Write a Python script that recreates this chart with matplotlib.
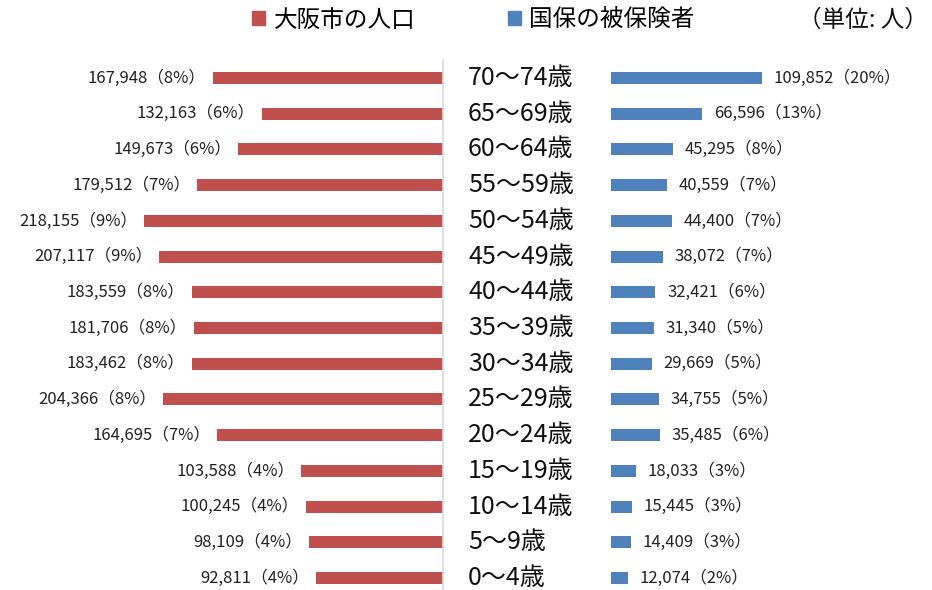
import matplotlib.pyplot as plt
import matplotlib.transforms as mtransforms
from matplotlib.patches import Patch

plt.rcParams['font.family'] = ['Noto Sans CJK JP', 'DejaVu Sans']

# Age groups, top to bottom as in the reference
ages = ['70～74歳', '65～69歳', '60～64歳', '55～59歳', '50～54歳',
        '45～49歳', '40～44歳', '35～39歳', '30～34歳', '25～29歳',
        '20～24歳', '15～19歳', '10～14歳', '5～9歳', '0～4歳']

# Osaka city population and share
city_pop = [167948, 132163, 149673, 179512, 218155, 207117, 183559, 181706,
            183462, 204366, 164695, 103588, 100245, 98109, 92811]
city_pct = [8, 6, 6, 7, 9, 9, 8, 8, 8, 8, 7, 4, 4, 4, 4]

# National health insurance insured and share
nhi_pop = [109852, 66596, 45295, 40559, 44400, 38072, 32421, 31340,
           29669, 34755, 35485, 18033, 15445, 14409, 12074]
nhi_pct = [20, 13, 8, 7, 7, 7, 6, 5, 5, 5, 6, 3, 3, 3, 2]

legend_labels = ['大阪市の人口', '国保の被保険者']
unit_label = '（単位: 人）'

red = '#C0504D'
blue = '#4F81BD'

W, H = 932, 590
fig = plt.figure(figsize=(W / 100, H / 100), dpi=100)

top = 60 / H
ax_l = fig.add_axes([0, 0, 443 / W, 1 - top])
ax_r = fig.add_axes([611 / W, 0, 1 - 611 / W, 1 - top])

n = len(ages)
ypos = list(range(n - 1, -1, -1))  # first item at top
bar_h = 0.336

ax_l.barh(ypos, city_pop, height=bar_h, color=red)
ax_r.barh(ypos, nhi_pop, height=bar_h, color=blue)

ax_l.set_xlim(323400, 0)
ax_r.set_xlim(0, 234300)
for ax in (ax_l, ax_r):
    ax.set_ylim(-0.336, 14.504)
    ax.set_xticks([])
    ax.set_yticks([])
    for s in ax.spines.values():
        s.set_visible(False)
ax_l.spines['right'].set_visible(True)
ax_l.spines['right'].set_color('#D9D9D9')
ax_l.spines['right'].set_linewidth(1.2)

# value labels
for y, v, p in zip(ypos, city_pop, city_pct):
    ax_l.annotate(f'{v:,}（{p}%）', (v, y), xytext=(-5, 0),
                  textcoords='offset points', ha='right', va='center',
                  fontsize=12, color='#222222')
for y, v, p in zip(ypos, nhi_pop, nhi_pct):
    ax_r.annotate(f'{v:,}（{p}%）', (v, y), xytext=(8.5, 0),
                  textcoords='offset points', ha='left', va='center',
                  fontsize=12, color='#222222')

# category labels in the middle
trans = mtransforms.blended_transform_factory(fig.transFigure, ax_l.transData)
for y, a in zip(ypos, ages):
    ax_l.text(468 / W, y, a, transform=trans, ha='left', va='center',
              fontsize=18, color='#111111', clip_on=False)

# legend and unit
handles = [Patch(color=red), Patch(color=blue)]
fig.legend(handles, legend_labels, loc='center left',
           bbox_to_anchor=(252 / W, 1 - 20 / H), ncol=2, frameon=False,
           fontsize=17, handlelength=0.57, handleheight=0.57,
           handletextpad=0.35, columnspacing=3.9, borderpad=0,
           borderaxespad=0)
fig.text(928 / W, 1 - 20 / H, unit_label, ha='right', va='center',
         fontsize=17, color='#111111')

fig.savefig('out.png', dpi=100)
